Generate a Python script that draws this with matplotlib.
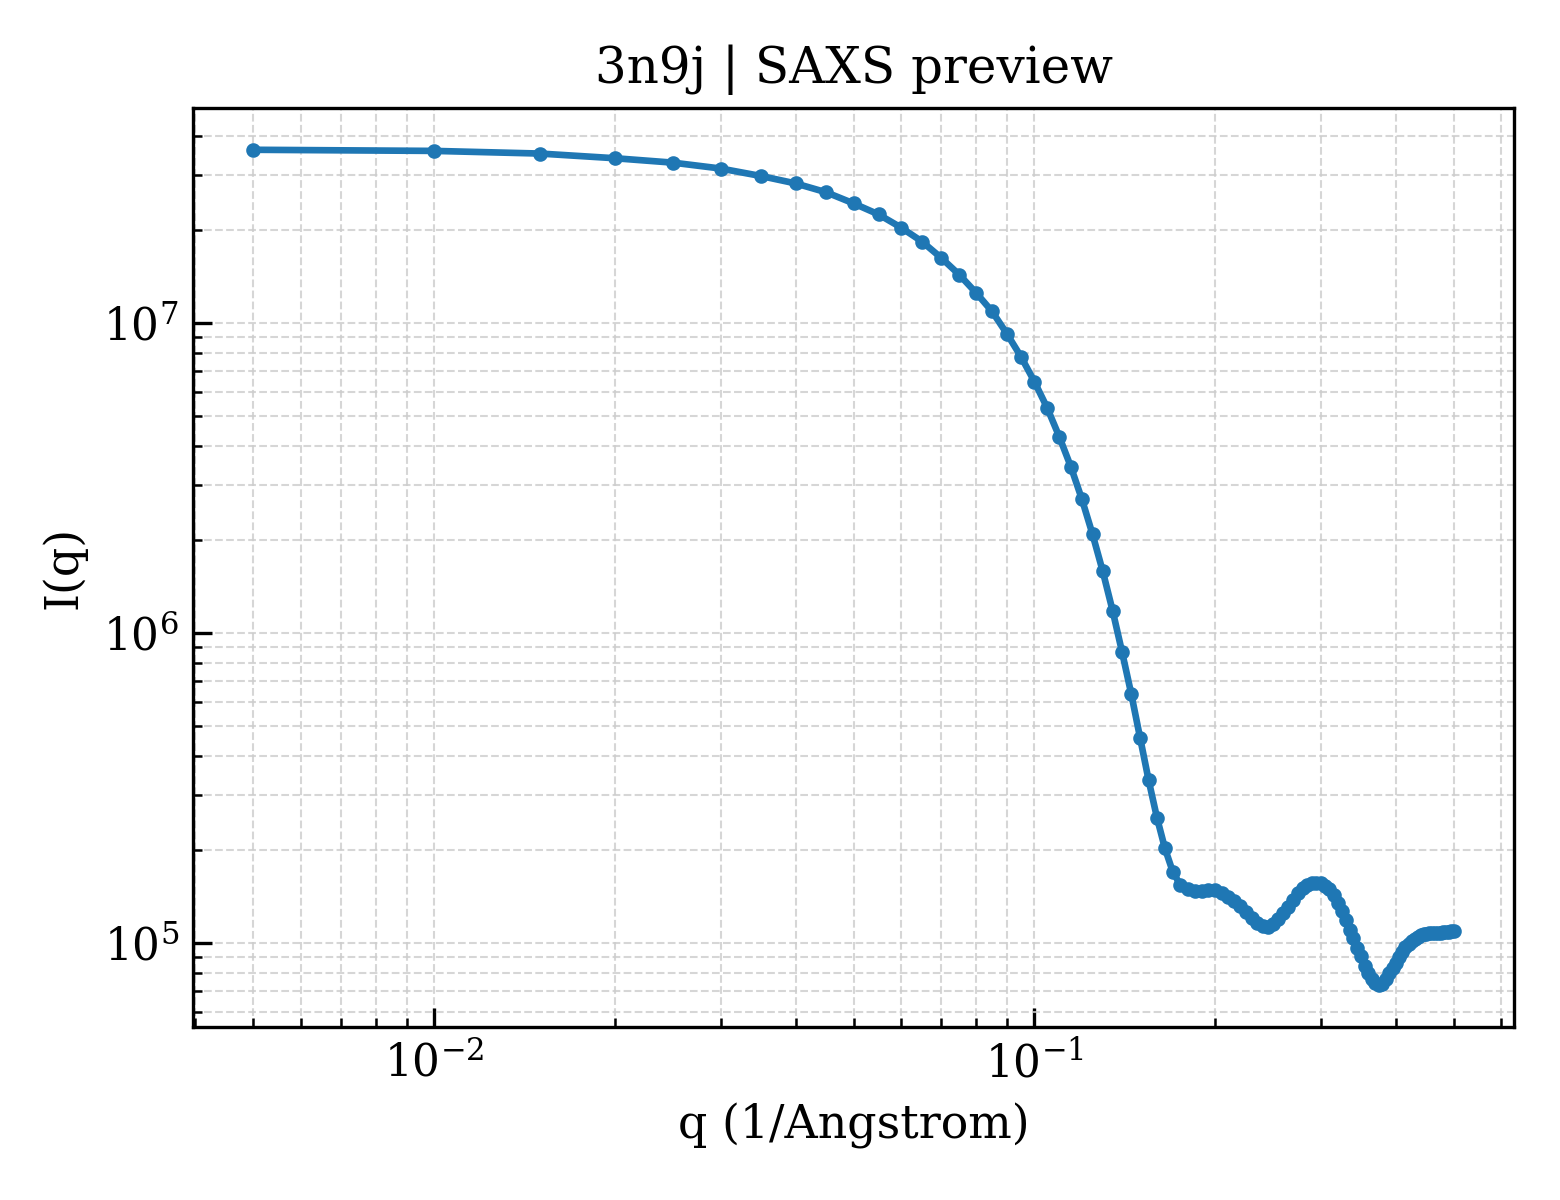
import numpy as np
import matplotlib
matplotlib.use("Agg")
import matplotlib.pyplot as plt

# scattering vector, 1/Angstrom (0.005 grid)
q = [0.005, 0.010, 0.015, 0.020, 0.025, 0.030, 0.035, 0.040, 0.045, 0.050,
     0.055, 0.060, 0.065, 0.070, 0.075, 0.080, 0.085, 0.090, 0.095, 0.100,
     0.105, 0.110, 0.115, 0.120, 0.125, 0.130, 0.135, 0.140, 0.145, 0.150,
     0.155, 0.160, 0.165, 0.170, 0.175, 0.180, 0.185, 0.190, 0.195, 0.200,
     0.205, 0.210, 0.215, 0.220, 0.225, 0.230, 0.235, 0.240, 0.245, 0.250,
     0.255, 0.260, 0.265, 0.270, 0.275, 0.280, 0.285, 0.290, 0.295, 0.300,
     0.305, 0.310, 0.315, 0.320, 0.325, 0.330, 0.335, 0.340, 0.345, 0.350,
     0.355, 0.360, 0.365, 0.370, 0.375, 0.380, 0.385, 0.390, 0.395, 0.400,
     0.405, 0.410, 0.415, 0.420, 0.425, 0.430, 0.435, 0.440, 0.445, 0.450,
     0.455, 0.460, 0.465, 0.470, 0.475, 0.480, 0.485, 0.490, 0.495, 0.500]

# intensity
I = [3.62e7, 3.59e7, 3.52e7, 3.40e7, 3.29e7, 3.15e7, 2.98e7, 2.82e7, 2.64e7, 2.43e7,
     2.24e7, 2.03e7, 1.83e7, 1.62e7, 1.43e7, 1.25e7, 1.09e7, 9.23e6, 7.78e6, 6.47e6,
     5.33e6, 4.30e6, 3.44e6, 2.70e6, 2.08e6, 1.58e6, 1.18e6, 8.67e5, 6.36e5, 4.59e5,
     3.35e5, 2.54e5, 2.02e5, 1.70e5, 1.54e5, 1.49e5, 1.476e5, 1.473e5, 1.482e5, 1.479e5,
     1.449e5, 1.412e5, 1.366e5, 1.316e5, 1.258e5, 1.208e5, 1.164e5, 1.134e5, 1.130e5, 1.156e5,
     1.195e5, 1.249e5, 1.311e5, 1.381e5, 1.454e5, 1.509e5, 1.543e5, 1.561e5, 1.566e5, 1.561e5,
     1.532e5, 1.498e5, 1.433e5, 1.350e5, 1.273e5, 1.190e5, 1.105e5, 1.042e5, 9.67e4, 9.05e4,
     8.46e4, 7.98e4, 7.66e4, 7.41e4, 7.30e4, 7.35e4, 7.63e4, 7.98e4, 8.28e4, 8.62e4,
     9.01e4, 9.39e4, 9.71e4, 9.96e4, 1.019e5, 1.034e5, 1.049e5, 1.061e5, 1.069e5, 1.073e5,
     1.077e5, 1.080e5, 1.081e5, 1.081e5, 1.081e5, 1.083e5, 1.085e5, 1.089e5, 1.093e5, 1.097e5]

plt.rcParams['font.family'] = 'DejaVu Serif'
plt.rcParams['mathtext.fontset'] = 'dejavuserif'

fig, ax = plt.subplots(figsize=(5.2, 4), dpi=300)
fig.subplots_adjust(left=0.124, right=0.9705, top=0.91, bottom=0.144)

ax.plot(q, I, '-o', color='#1f77b4', lw=1.6, ms=2.5)
ax.set_xscale('log')
ax.set_yscale('log')

ax.set_title('3n9j | SAXS preview', fontsize=12)
ax.set_xlabel('q (1/Angstrom)', fontsize=11)
ax.set_ylabel('I(q)', fontsize=11)

ax.tick_params(which='both', direction='in', labelsize=10.5)
ax.tick_params(which='major', length=4.5)
ax.tick_params(which='minor', length=2.2)
ax.grid(True, which='both', ls='--', lw=0.5, color='#cccccc', alpha=0.8)

fig.savefig('out.png', dpi=300)
